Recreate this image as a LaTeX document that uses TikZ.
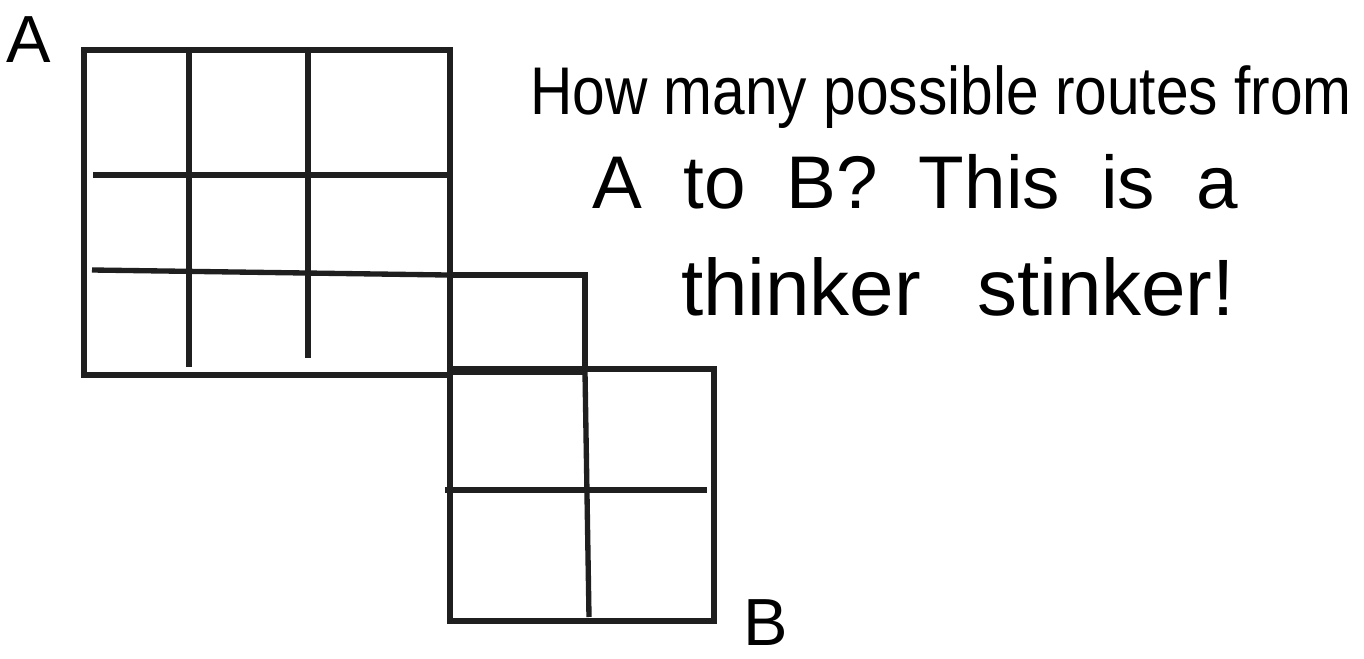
\documentclass[tikz,border=0pt]{standalone}
\usepackage{fontspec}
\setmainfont{Liberation Sans}
\begin{document}
\begin{tikzpicture}[x=0.75pt,y=-0.75pt,
  gridline/.style={line width=4pt,draw=black!88,line cap=butt,line join=miter},
  txt/.style={anchor=base,inner sep=0pt},
  lbl/.style={font=\fontsize{50}{56}\selectfont,anchor=base,inner sep=0pt}]
\useasboundingbox (0,0) rectangle (1364,659);
% big 3x3 block
\draw[gridline] (84,50) rectangle (450,375);
\draw[gridline] (189,50) -- (189,367);
\draw[gridline] (308,50) -- (308,358);
\draw[gridline] (93,175) -- (453,175);
\draw[gridline] (92,270) -- (447,275);
% small connecting square
\draw[gridline] (450,275) -- (585,275) -- (585,372);
\draw[gridline] (450,372) -- (585,372);
% bottom 2x2 block
\draw[gridline] (450,369) rectangle (714,621);
\draw[gridline] (585,372) -- (589,617);
\draw[gridline] (445,490) -- (707,490);
% labels
\node[lbl] (A) at (29,63) {A};
\node[lbl] (B) at (766,645) {B};
\node[txt,font=\fontsize{44}{50}\selectfont,yscale=1.15,transform shape] (l1) at (941,115) {How many possible routes from};
\node[txt,font=\fontsize{56}{64}\selectfont] (l2) at (915,209) {\spaceskip=0.55em A to B? This is a};
\node[txt,font=\fontsize{60}{68}\selectfont] (l3) at (958,316) {\spaceskip=0.7em thinker stinker!};
\end{tikzpicture}
\end{document}
